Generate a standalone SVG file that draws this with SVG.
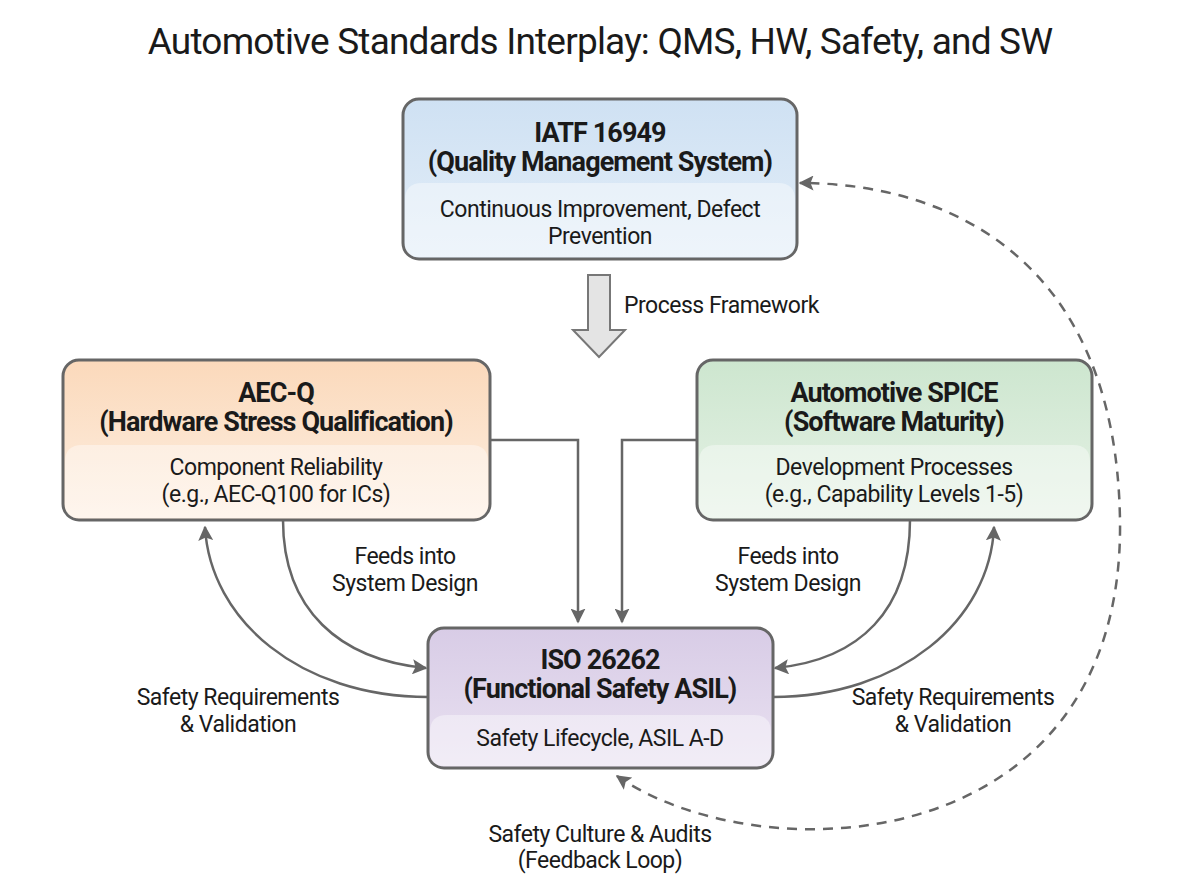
<svg xmlns="http://www.w3.org/2000/svg" width="1200" height="896" viewBox="0 0 1200 896">
<defs>
<marker id="ah" viewBox="0 0 10 10" refX="9" refY="5" markerWidth="6" markerHeight="6" orient="auto-start-reverse"><path d="M0,0 L10,5 L0,10 L2,5 z" fill="#666"/></marker>
<linearGradient id="gb" x1="0" y1="0" x2="0" y2="1"><stop offset="0" stop-color="#cfe1f3"/><stop offset="1" stop-color="#e3eef8"/></linearGradient>
<linearGradient id="go" x1="0" y1="0" x2="0" y2="1"><stop offset="0" stop-color="#fbd9bb"/><stop offset="1" stop-color="#fdefe2"/></linearGradient>
<linearGradient id="gg" x1="0" y1="0" x2="0" y2="1"><stop offset="0" stop-color="#cde6cf"/><stop offset="1" stop-color="#e6f2e6"/></linearGradient>
<linearGradient id="gp" x1="0" y1="0" x2="0" y2="1"><stop offset="0" stop-color="#d8cce6"/><stop offset="1" stop-color="#e9e1f1"/></linearGradient>
</defs>
<style>
text{font-family:Roboto,"Liberation Sans",sans-serif;fill:#1a1a1a;text-anchor:middle}
.t{font-size:27px;font-weight:bold;letter-spacing:-0.9px}
.s{font-size:23px;letter-spacing:-0.5px}
.l{font-size:23px;letter-spacing:-0.5px}
.box{stroke:#666;stroke-width:3}
.band{fill:#fff;opacity:0.4}
.c{fill:none;stroke:#666;stroke-width:2.5}
</style>
<rect width="1200" height="896" fill="#fff"/>
<text x="600" y="54" font-size="37" style="letter-spacing:-0.8px">Automotive Standards Interplay: QMS, HW, Safety, and SW</text>
<g id="iatf">
<rect class="box" x="403" y="99" width="394" height="160" rx="16" fill="url(#gb)"/>
<path class="band" d="M405,200 Q405,183 422,183 L778,183 Q795,183 795,200 L795,244 Q795,257 780,257 L420,257 Q405,257 405,244 z"/>
<text class="t" x="600" y="142">IATF 16949</text>
<text class="t" x="600" y="171">(Quality Management System)</text>
<text class="s" x="600" y="217">Continuous Improvement, Defect</text>
<text class="s" x="600" y="244">Prevention</text>
</g>
<g id="aecq">
<rect class="box" x="63" y="360" width="427" height="160" rx="16" fill="url(#go)"/>
<path class="band" d="M65,462 Q65,445 82,445 L471,445 Q488,445 488,462 L488,505 Q488,518 473,518 L80,518 Q65,518 65,505 z"/>
<text class="t" x="276" y="402">AEC-Q</text>
<text class="t" x="276" y="431">(Hardware Stress Qualification)</text>
<text class="s" x="276" y="475">Component Reliability</text>
<text class="s" x="276" y="502">(e.g., AEC-Q100 for ICs)</text>
</g>
<g id="spice">
<rect class="box" x="697" y="360" width="395" height="160" rx="16" fill="url(#gg)"/>
<path class="band" d="M699,462 Q699,445 716,445 L1073,445 Q1090,445 1090,462 L1090,505 Q1090,518 1075,518 L714,518 Q699,518 699,505 z"/>
<text class="t" x="894" y="402">Automotive SPICE</text>
<text class="t" x="894" y="431">(Software Maturity)</text>
<text class="s" x="894" y="475">Development Processes</text>
<text class="s" x="894" y="502">(e.g., Capability Levels 1-5)</text>
</g>
<g id="iso">
<rect class="box" x="428" y="628" width="345" height="140" rx="16" fill="url(#gp)"/>
<path class="band" d="M430,732 Q430,715 447,715 L754,715 Q771,715 771,732 L771,753 Q771,766 756,766 L445,766 Q430,766 430,753 z"/>
<text class="t" x="600" y="669">ISO 26262</text>
<text class="t" x="600" y="698">(Functional Safety ASIL)</text>
<text class="s" x="600" y="746">Safety Lifecycle, ASIL A-D</text>
</g>
<g id="connectors">
<path d="M588,275 L610,275 L610,330 L625,330 L599,357 L573,330 L588,330 z" fill="#e4e4e4" stroke="#777" stroke-width="2"/>
<path class="c" d="M490,440 L578,440 L578,622" marker-end="url(#ah)"/>
<path class="c" d="M697,440 L622,440 L622,622" marker-end="url(#ah)"/>
<path class="c" d="M283,520 C283,610 340,660 426,668" marker-end="url(#ah)"/>
<path class="c" d="M428,697 C300,697 210,620 205,527" marker-end="url(#ah)"/>
<path class="c" d="M910,520 C910,610 860,660 775,668" marker-end="url(#ah)"/>
<path class="c" d="M773,697 C900,697 990,620 994,527" marker-end="url(#ah)"/>
<path class="c" d="M617,776 C760,875 1125,860 1120,520 C1116,260 950,183 800,183" stroke-dasharray="10,8" marker-start="url(#ah)" marker-end="url(#ah)"/>
</g>
<g id="labels">
<text class="l" x="624" y="313" style="text-anchor:start">Process Framework</text>
<text class="l" x="405" y="564">Feeds into</text>
<text class="l" x="405" y="591">System Design</text>
<text class="l" x="788" y="564">Feeds into</text>
<text class="l" x="788" y="591">System Design</text>
<text class="l" x="238" y="705">Safety Requirements</text>
<text class="l" x="238" y="732">&amp; Validation</text>
<text class="l" x="953" y="705">Safety Requirements</text>
<text class="l" x="953" y="732">&amp; Validation</text>
<text class="l" x="600" y="842">Safety Culture &amp; Audits</text>
<text class="l" x="600" y="868">(Feedback Loop)</text>
</g>
</svg>
